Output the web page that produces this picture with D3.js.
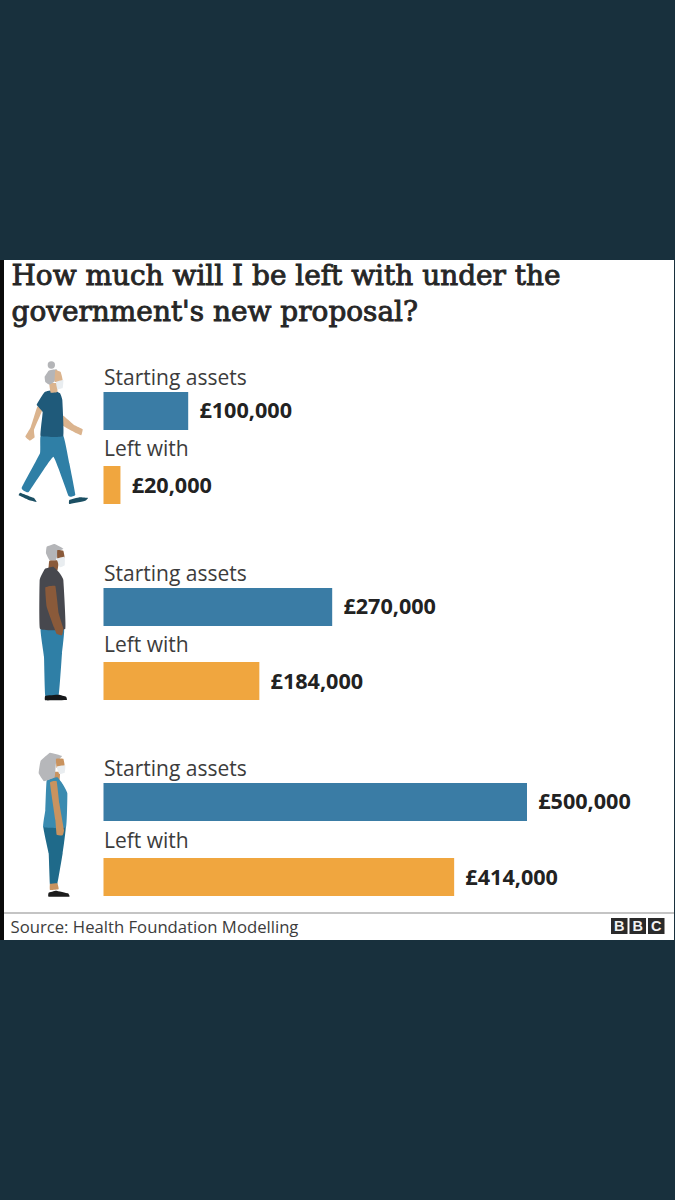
<!DOCTYPE html>
<html>
<head>
<meta charset="utf-8">
<script src="https://cdn.jsdelivr.net/npm/d3@7"></script>
<style>
html,body{margin:0;padding:0;background:#18303d;}
svg{display:block;}
</style>
</head>
<body>
<div id="chart"></div>
<script>
const titleLines = ["How much will I be left with under the", "government's new proposal?"];
const startingAssets = [100000, 270000, 500000];
const leftWith = [20000, 184000, 414000];
const seriesLabels = ["Starting assets", "Left with"];
const sourceText = "Source: Health Foundation Modelling";
const bbcLetters = ["B", "B", "C"];

const W = 675, H = 1200;
const BLUE = "#3a7ca5", ORANGE = "#f0a63f", INK = "#222222";
const sans = "'Open Sans','Noto Sans',sans-serif";
const money = v => "£" + d3.format(",")(v);

const svg = d3.select("#chart").append("svg").attr("width", W).attr("height", H);
svg.append("rect").attr("width", W).attr("height", H).attr("fill", "#18303d");
svg.append("rect").attr("x", 0).attr("y", 260).attr("width", 4).attr("height", 680).attr("fill", "#0a0a0a");
svg.append("rect").attr("x", 4).attr("y", 260).attr("width", 670).attr("height", 680).attr("fill", "#ffffff");

// Title
svg.append("g").selectAll("text").data(titleLines).join("text")
  .attr("x", 11.5).attr("y", (d, i) => 285 + i * 36)
  .attr("font-family", "'DejaVu Serif',serif").attr("font-weight", 400)
  .attr("font-size", 27.95).attr("fill", "#262626")
  .attr("stroke", "#262626").attr("stroke-width", 0.9).text(d => d);

// Bars share one value scale across all three groups
const x = d3.scaleLinear().domain([0, 500000]).range([103.5, 527]);
const groupTop = d3.scaleOrdinal().domain([0, 1, 2]).range([392, 588, 783]);
const rowStep = d3.scaleOrdinal().domain([0, 1, 2]).range([74, 74, 75]);
const BAR_H = 38;

const groups = svg.append("g").selectAll("g").data(startingAssets.map((s, i) => ({
  i, rows: [
    { label: seriesLabels[0], value: s, color: BLUE, labelDy: -7.5, valueDy: 25.5, offset: 0 },
    { label: seriesLabels[1], value: leftWith[i], color: ORANGE, labelDy: -10.5, valueDy: 27, offset: rowStep(i) }
  ]
}))).join("g").attr("transform", d => `translate(0,${groupTop(d.i)})`);

const rows = groups.selectAll("g").data(d => d.rows).join("g")
  .attr("transform", d => `translate(0,${d.offset})`);

rows.append("rect").attr("x", x(0)).attr("y", 0)
  .attr("width", d => x(d.value) - x(0)).attr("height", BAR_H).attr("fill", d => d.color);
rows.append("text").attr("x", 104).attr("y", d => d.labelDy)
  .attr("font-family", sans).attr("font-size", 21).attr("fill", "#3c3c3c").text(d => d.label);
rows.append("text").attr("x", d => x(d.value) + 11.2).attr("y", d => d.valueDy)
  .attr("font-family", sans).attr("font-weight", 700).attr("font-size", 21.6).attr("fill", INK)
  .text(d => money(d.value));

// Illustrated figures, traced on a 3x grid and scaled down to page size
const blob = d3.line().curve(d3.curveCardinalClosed.tension(0.75));
function figure(dx, dy, parts) {
  const g = svg.append("g").attr("transform", `translate(${dx},${dy}) scale(${1 / 3})`);
  parts.forEach(p => {
    if (p.c) g.append("circle").attr("cx", p.c[0]).attr("cy", p.c[1]).attr("r", p.c[2]).attr("fill", p.f);
    else g.append("path").attr("d", blob(p.p)).attr("fill", p.f);
  });
}

const SKIN_LIGHT = "#dbb48e", GREY = "#b4b5b8", MASK = "#e9edf0";

// Walking woman
figure(0, 350, [
  { p: [[112,170],[128,178],[102,240],[104,262],[90,272],[76,260],[92,232]], f: SKIN_LIGHT },
  { p: [[186,194],[224,226],[248,238],[244,256],[230,250],[184,224]], f: SKIN_LIGHT },
  { p: [[122,258],[190,258],[208,340],[226,434],[206,438],[160,320],[86,426],[65,414],[120,310]], f: "#2f7fa6" },
  { p: [[134,126],[160,120],[180,130],[187,150],[190,258],[122,258],[128,186],[110,164]], f: "#1f5a7a" },
  { p: [[148,100],[172,100],[172,126],[152,128]], f: SKIN_LIGHT },
  { c: [154, 45, 11], f: GREY },
  { p: [[134,80],[146,62],[170,58],[172,78],[162,96],[148,104],[136,96]], f: GREY },
  { p: [[166,60],[182,66],[188,92],[164,96]], f: SKIN_LIGHT },
  { p: [[168,96],[190,90],[188,114],[172,118]], f: MASK },
  { p: [[60,428],[76,434],[102,444],[110,456],[86,450],[56,436]], f: "#1b4f63" },
  { p: [[208,450],[238,442],[264,444],[256,452],[208,462]], f: "#1b4f63" }
]);

// Standing man
figure(0, 530, [
  { p: [[122,296],[192,296],[186,370],[176,497],[136,497],[132,380]], f: "#2f7fa6" },
  { p: [[148,92],[176,92],[172,122],[146,120]], f: "#8a5a3a" },
  { p: [[135,116],[160,110],[178,128],[190,150],[196,296],[120,296],[119,150]], f: "#47484e" },
  { p: [[136,172],[166,168],[176,250],[190,296],[186,316],[170,312],[162,292],[140,230]], f: "#8a5a3a" },
  { p: [[140,50],[164,42],[190,56],[176,64],[168,90],[148,90],[138,70]], f: GREY },
  { p: [[172,60],[190,62],[194,84],[172,86]], f: "#8a5a3a" },
  { p: [[170,86],[194,80],[194,106],[180,112]], f: MASK },
  { p: [[136,497],[176,494],[198,500],[200,510],[136,511]], f: "#16181a" }
]);

// Standing woman with long hair
figure(0, 740, [
  { p: [[130,258],[197,258],[188,340],[172,432],[150,434],[146,340]], f: "#1f6a8a" },
  { p: [[156,96],[180,96],[178,122],[154,122]], f: "#c9935f" },
  { p: [[140,122],[172,112],[188,132],[202,160],[198,262],[130,262],[136,210]], f: "#3a8bb0" },
  { p: [[150,128],[170,124],[178,190],[192,270],[188,286],[170,284],[166,240]], f: "#c9935f" },
  { p: [[122,62],[150,38],[186,48],[168,70],[164,112],[132,124],[116,100]], f: "#b6b7ba" },
  { p: [[168,56],[190,56],[194,80],[170,84]], f: "#c9935f" },
  { p: [[170,80],[196,76],[194,98],[178,102]], f: MASK },
  { p: [[150,432],[172,430],[176,448],[150,450]], f: "#c9935f" },
  { p: [[146,458],[168,452],[204,460],[208,470],[146,470]], f: "#1c1c1c" }
]);

// Footer
svg.append("line").attr("x1", 4).attr("x2", 674).attr("y1", 913).attr("y2", 913)
  .attr("stroke", "#b0b0b0").attr("stroke-width", 1.5);
svg.append("text").attr("x", 10.5).attr("y", 932.5)
  .attr("font-family", sans).attr("font-size", 16.7).attr("fill", "#3c3c3c").text(sourceText);

const logo = svg.append("g").selectAll("g").data(bbcLetters).join("g")
  .attr("transform", (d, i) => `translate(${611 + i * 18.5},918)`);
logo.append("rect").attr("width", 16.5).attr("height", 16).attr("fill", "#2a2a2a");
logo.append("text").attr("x", 8.25).attr("y", 13.2).attr("text-anchor", "middle")
  .attr("font-family", "'Liberation Sans',sans-serif").attr("font-weight", 700)
  .attr("font-size", 14.5).attr("fill", "#f2f2f2").text(d => d);
</script>
</body>
</html>
